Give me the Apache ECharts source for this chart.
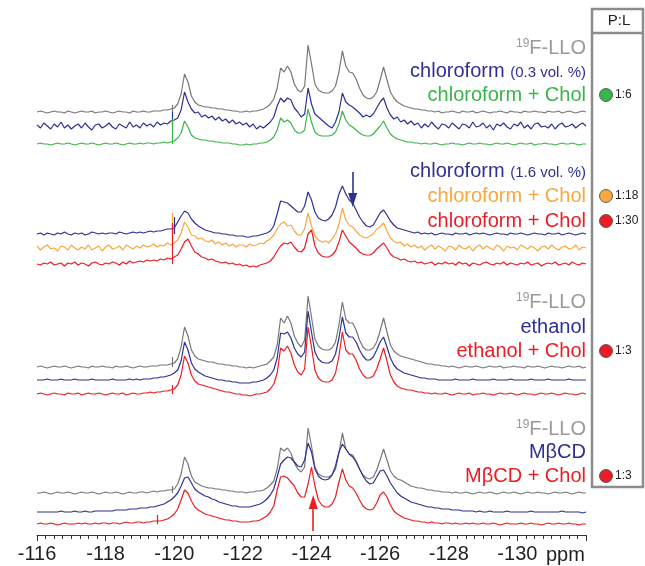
<!DOCTYPE html>
<html>
<head>
<meta charset="utf-8">
<script src="https://cdn.jsdelivr.net/npm/echarts@6/dist/echarts.min.js"></script>
<style>
  html, body { margin: 0; padding: 0; background: #fff; }
  #main { width: 645px; height: 566px; }
</style>
</head>
<body>
<div id="main"></div>
<script>
// chemical shift sampling: first point and spacing (ppm)
var ppmStart = -116.0;
var ppmStep = -0.1;

// labelled ticks of the shift axis
var ppmTicks = [-116, -118, -120, -122, -124, -126, -128, -130];

// intensities above each trace's own baseline, one value per 0.1 ppm
// panel 1 : 19F-LLO / chloroform 0.3 % / chloroform + Chol
var llo1 = [
  0,1,0,-1,0,1,0,0,-1,1, 0,-1,0,1,0,0,1,-1,0,0, 1,0,-1,0,1,0,0,-1,1,0, 0,1,0,0,1,1,1,2,2,3,
  4,8,18,38,30,16,10,7,6,5, 5,4,4,3,3,2,2,1,1,0, 0,1,0,1,1,2,3,5,8,13, 24,44,40,46,40,28,22,20,26,67,
  48,28,22,20,19,19,21,26,40,61, 46,40,39,33,24,17,14,13,15,20, 32,45,32,20,14,10,8,6,5,4, 3,3,2,2,1,1,0,1,-1,0,
  0,1,0,-1,1,0,0,1,-1,0, 1,0,-1,0,0,1,0,-1,1,0, 0,-1,1,0,0,1,0,0,-1,1, 0,0,1,-1,0,1,0,-1,0,1,0
];
var chl03 = [
  1,-2,3,0,-3,2,-1,4,-2,1, -3,0,2,-2,3,-1,-4,1,2,-2, 0,3,-1,-3,2,0,-2,4,-1,1, -2,3,0,2,-1,4,1,3,2,5,
  6,8,16,34,24,17,13,14,9,11, 8,10,6,9,5,7,3,6,2,4, 1,3,-1,2,-3,0,-2,1,4,9, 20,28,24,28,26,18,14,9,12,38,
  22,12,9,6,3,0,-2,4,14,33, 24,21,19,16,13,9,11,9,12,18, 24,28,18,11,7,9,4,6,2,5, 1,3,-2,2,-1,4,0,-3,2,1,
  -2,3,0,-3,2,1,-2,4,-1,0, 3,-2,1,-4,2,0,3,-1,-3,2, 0,4,-2,1,-3,2,3,-1,0,-2, 2,-3,1,3,-1,0,2,-2,1,3,0
];
var chl03Chol = [
  0,1,0,0,-1,0,1,0,0,1, 0,-1,0,1,0,0,1,0,-1,0, 1,0,0,1,0,-1,0,1,0,0, 1,0,1,1,0,1,1,2,1,2,
  3,6,11,23,17,9,6,5,4,4, 3,3,2,2,1,1,1,0,0,-1, -1,0,-1,0,0,1,1,2,4,7, 14,26,22,24,21,14,11,11,14,35,
  22,12,9,8,8,8,9,12,20,33, 24,19,17,14,11,9,8,8,10,14, 18,23,16,10,7,5,4,3,2,2, 1,1,0,1,0,0,1,0,-1,0,
  0,1,0,0,-1,0,1,0,0,1, 0,0,-1,0,1,0,0,1,0,-1, 0,1,0,0,1,-1,0,0,1,0, 0,-1,0,1,0,0,1,0,-1,0,0
];
// panel 2 : chloroform 1.6 % / + Chol (1:18) / + Chol (1:30)
var chl16 = [
  0,1,-1,1,0,-1,1,0,2,0, -1,1,0,1,-1,0,2,1,0,1, 0,1,1,0,2,1,0,1,2,1, 2,1,2,3,2,3,3,4,5,5,
  6,12,18,23,21,15,11,8,6,4, 3,2,1,1,0,0,-1,-1,-2,-2, -2,-3,-3,-2,-2,-1,0,1,3,8, 20,33,32,31,28,25,22,22,28,42,
  34,22,16,14,13,15,19,27,40,48, 40,34,31,24,17,12,8,7,9,15, 21,24,19,13,9,6,5,4,3,2, 1,2,0,1,0,1,-1,0,1,0,
  0,-1,1,0,0,1,-1,0,1,0, 1,0,-1,0,1,0,0,-1,1,0, 0,1,0,-1,0,1,0,0,-1,1, 0,0,1,-1,0,1,0,-1,0,1,0
];
var chl16Chol18 = [
  2,-2,1,3,-1,0,-3,2,1,-2, 3,0,-2,1,-1,3,-2,0,2,-3, 1,3,-1,0,2,-2,3,1,-1,2, 0,3,1,2,4,1,3,2,5,3,
  5,8,15,26,21,13,12,9,10,7, 6,8,4,6,3,5,2,4,1,3, 3,1,4,2,3,5,4,7,9,13, 19,24,26,22,23,17,13,13,19,35,
  22,12,8,6,7,5,9,14,24,40, 28,23,21,17,13,11,10,12,14,19, 21,25,17,10,7,5,6,2,4,1, 3,0,2,-2,1,3,-1,2,0,-3,
  2,1,-2,3,0,-1,2,-3,1,3, -1,2,0,-2,3,1,-3,2,0,1, -2,3,1,-1,2,0,-3,1,2,-1, 3,0,-2,1,2,-1,0,3,-2,1,0
];
var chl16Chol30 = [
  0,-1,1,0,2,-1,0,1,-2,1, 0,2,-1,1,0,-2,1,2,0,-1, 1,0,2,1,-1,2,0,3,1,2, 3,2,4,3,4,3,5,4,6,5,
  7,9,15,22,25,18,12,10,7,6, 4,5,3,2,1,2,0,1,-1,0, -2,-1,-3,-2,-3,-1,0,1,3,7, 13,18,21,20,22,17,13,12,16,30,
  34,18,11,8,7,7,9,13,22,34, 28,22,19,16,12,10,9,9,11,15, 18,21,16,10,7,6,4,5,3,2, 3,1,2,0,1,2,-1,1,0,2,
  0,1,-1,2,0,1,-2,1,0,-1, 1,2,0,-1,1,0,2,-1,1,0, -1,1,0,2,-1,0,1,-2,0,1, 0,2,-1,0,1,-1,2,0,-1,1,0
];
// panel 3 : 19F-LLO / ethanol / ethanol + Chol
var llo3 = [
  0,1,0,-1,0,1,0,0,1,0, -1,0,1,0,0,-1,1,0,0,1, 0,0,-1,1,0,0,1,0,-1,0, 1,0,0,1,1,1,2,2,2,3,
  4,8,20,40,31,17,11,8,7,6, 5,5,4,3,3,2,2,1,1,0, 0,-1,0,-1,0,1,2,3,6,10, 22,49,44,51,44,31,24,20,27,71,
  50,28,21,18,17,17,19,25,42,65, 48,44,44,37,27,20,17,17,19,25, 36,49,35,22,16,13,11,10,9,8, 7,6,5,4,3,3,2,2,1,1,
  0,1,0,-1,0,1,0,0,1,0, -1,0,1,0,0,1,-1,0,0,1, 0,0,-1,1,0,0,1,0,-1,0, 1,0,0,-1,0,1,0,0,1,-1,0
];
var eth = [
  0,0,0,1,0,0,0,1,0,0, 0,1,0,0,0,0,1,0,0,0, 0,0,1,0,0,0,0,1,0,1, 0,1,1,1,2,2,3,3,4,5,
  7,10,19,38,30,17,11,8,6,4, 3,2,1,0,0,-1,-1,-2,-2,-3, -3,-3,-3,-2,-2,-1,0,2,5,10, 22,47,46,48,42,32,26,23,28,69,
  48,28,21,18,17,17,19,26,42,63, 47,43,43,38,30,24,20,20,23,30, 38,43,33,22,15,11,9,7,6,5, 4,3,2,2,1,1,1,0,0,0,
  0,0,1,0,0,0,0,1,0,0, 0,0,0,1,0,0,0,0,1,0, 0,0,0,0,1,0,0,0,0,1, 0,0,0,0,0,1,0,0,0,0,0
];
var ethChol = [
  0,1,0,-1,0,1,0,0,-1,1, 0,0,1,-1,0,1,0,0,1,0, -1,0,1,0,0,1,-1,0,1,0, 0,1,1,2,1,2,2,3,3,4,
  5,9,19,38,31,19,13,10,9,8, 7,6,5,4,3,2,2,1,0,0, -1,-1,-2,-1,0,0,1,2,5,10, 21,46,43,48,41,29,22,19,25,67,
  47,24,16,13,12,12,14,21,38,62, 44,40,40,34,25,19,16,16,18,25, 35,46,33,19,12,8,6,5,4,4, 3,2,2,1,1,0,1,0,0,1,
  0,-1,0,1,0,0,1,-1,0,0, 1,0,0,-1,0,1,0,0,1,0, -1,0,1,0,0,-1,0,1,0,0, 1,0,-1,0,1,0,0,-1,0,1,0
];
// panel 4 : 19F-LLO / MbCD / MbCD + Chol
var llo4 = [
  0,0,1,0,-1,0,1,0,0,1, 0,-1,0,1,0,0,1,0,-1,0, 1,0,0,1,0,-1,0,1,0,0, 1,1,0,1,2,1,2,2,3,3,
  4,9,19,36,29,17,11,9,7,6, 5,5,4,4,3,3,2,2,1,1, 1,0,1,1,2,2,3,5,8,12, 24,45,42,45,40,30,24,21,26,65,
  47,26,19,17,16,16,18,24,40,60, 44,39,38,32,24,18,15,14,16,23, 33,44,33,22,17,14,13,11,9,7, 6,5,5,4,3,3,2,2,1,1,
  1,0,1,0,0,1,0,-1,0,1, 0,0,1,0,-1,0,1,0,0,1, 0,-1,0,1,0,0,1,0,0,-1, 0,1,0,0,1,0,-1,0,1,0,0
];
var mbcd = [
  0,0,0,0,0,0,0,1,0,0, 0,1,0,0,1,0,0,1,1,1, 1,1,1,2,2,2,2,3,3,3, 4,4,4,5,5,6,7,8,10,12,
  15,19,26,34,35,29,23,20,18,16, 15,13,12,10,9,8,7,6,6,5, 5,5,5,6,7,8,10,13,17,23, 35,48,52,55,54,50,46,45,52,69,
  60,43,36,33,32,33,37,46,60,68, 63,58,55,50,43,36,31,28,29,35, 41,42,36,29,24,19,16,14,12,10, 9,8,7,6,5,5,4,4,3,3,
  3,2,2,2,1,1,1,1,0,1, 0,0,1,0,0,0,0,1,0,0, 0,0,0,0,1,0,0,0,0,0, 0,0,0,1,0,0,0,0,0,-1,0
];
var mbcdChol = [
  0,1,0,0,1,0,-1,0,1,0, 0,0,1,0,1,0,0,1,0,1, 1,0,1,1,0,1,2,1,1,2, 2,1,2,2,3,3,3,4,5,7,
  10,15,24,34,31,23,17,14,12,10, 9,8,7,6,5,4,4,3,3,2, 2,2,2,3,3,4,6,8,12,18, 34,47,48,46,42,38,31,27,27,40,
  57,38,24,19,17,17,20,27,42,55, 44,38,36,31,24,18,15,14,15,21, 29,32,27,19,13,10,8,6,5,4, 3,3,2,2,1,2,1,1,0,1,
  1,0,1,0,0,1,0,1,0,0, 1,0,0,1,0,-1,0,1,0,0, 0,1,0,0,1,0,0,-1,0,1, 0,0,1,0,0,1,0,0,-1,0,0
];

// baseline of every trace on the stacking scale (same order as traceData)
var traceData = [llo1, chl03, chl03Chol, chl16, chl16Chol18, chl16Chol30, llo3, eth, ethChol, llo4, mbcd, mbcdChol];
var traceBase = [423, 409, 391, 301, 287, 271, 168, 155, 141, 42, 23, 11];

// narrow spikes: trace index, shift, height above baseline
var spikeTrace = [0, 1, 2, 3, 4, 5, 6, 8, 9, 11];
var spikePpm = [-119.95, -119.95, -119.95, -120.0, -119.95, -119.95, -119.95, -119.95, -119.95, -119.5];
var spikeHeight = [7, 14, 25, 17, 35, 41, 10, 9, 7, 9];

// arrows: trace index, shift, start and tip on the stacking scale
var arrowTrace = [3, 11];
var arrowPpm = [-125.2, -124.05];
var arrowFrom = [363, 4];
var arrowTo = [335, 33];

// sample labels, top to bottom
var sampleLabels = [
  '{s|19}{b|F-LLO}', '{b|chloroform }{m|(0.3 vol. %)}', '{b|chloroform + Chol}',
  '{b|chloroform }{m|(1.6 vol. %)}', '{b|chloroform + Chol}', '{b|chloroform + Chol}',
  '{s|19}{b|F-LLO}', '{b|ethanol}', '{b|ethanol + Chol}',
  '{s|19}{b|F-LLO}', '{b|M\u03b2CD}', '{b|M\u03b2CD + Chol}'
];
// protein : lipid ratios and the sample each belongs to
var plRatios = ['1:6', '1:18', '1:30', '1:3', '1:3'];
var plTrace = [2, 4, 5, 8, 11];

var GRAY = '#777777', LGRAY = '#9a9a9a', BLUE = '#2e3192', GREEN = '#39b54a', ORANGE = '#f9a73e', RED = '#ec1c24';
var traceColor = [GRAY, BLUE, GREEN, BLUE, ORANGE, RED, GRAY, BLUE, RED, GRAY, BLUE, RED];
var labelColor = [LGRAY, BLUE, GREEN, BLUE, ORANGE, RED, LGRAY, BLUE, RED, LGRAY, BLUE, RED];
var labelY = [48, 71, 95, 171, 196, 221, 302, 327, 351, 429, 452, 476];
var FONT = '"Liberation Sans", Arial, Helvetica, sans-serif';

var series = traceData.map(function (vals, k) {
  var base = traceBase[k];
  var marks = [];
  spikeTrace.forEach(function (t, j) {
    if (t !== k) return;
    marks.push([{coord: [spikePpm[j], base]}, {coord: [spikePpm[j], base + spikeHeight[j]]}]);
  });
  arrowTrace.forEach(function (t, j) {
    if (t !== k) return;
    marks.push([
      {coord: [arrowPpm[j], arrowFrom[j]], symbol: 'none'},
      {coord: [arrowPpm[j], arrowTo[j]], symbol: 'triangle', symbolSize: [9, 14], lineStyle: {width: 1.6}}
    ]);
  });
  return {
    type: 'line',
    data: vals.map(function (v, i) { return [ppmStart + ppmStep * i, base + v]; }),
    showSymbol: false,
    symbol: 'none',
    silent: true,
    lineStyle: {color: traceColor[k], width: 1.2},
    markLine: marks.length ? {
      silent: true,
      symbol: ['none', 'none'],
      label: {show: false},
      lineStyle: {color: traceColor[k], width: 1.2, type: 'solid'},
      data: marks
    } : undefined
  };
});

var graphics = sampleLabels.map(function (txt, k) {
  var c = labelColor[k];
  return {
    type: 'text', x: 586, y: labelY[k],
    style: {
      text: txt, align: 'right', verticalAlign: 'middle',
      rich: {
        b: {fontSize: 20, fontFamily: FONT, fill: c},
        m: {fontSize: 15, fontFamily: FONT, fill: c, verticalAlign: 'bottom', padding: [0, 0, 1, 0]},
        s: {fontSize: 12, fontFamily: FONT, fill: c, verticalAlign: 'top'}
      }
    }
  };
});

// P:L box
graphics.push({type: 'rect', shape: {x: 592, y: 9, width: 51, height: 478}, style: {fill: 'none', stroke: '#8c8c8c', lineWidth: 2.5}});
graphics.push({type: 'line', shape: {x1: 592, y1: 33, x2: 643, y2: 33}, style: {stroke: '#8c8c8c', lineWidth: 2.5}});
graphics.push({type: 'text', x: 619, y: 21, style: {text: 'P:L', align: 'center', verticalAlign: 'middle', fontSize: 15, fontFamily: FONT, fill: '#222'}});
plRatios.forEach(function (r, j) {
  var k = plTrace[j];
  graphics.push({type: 'circle', shape: {cx: 606, cy: labelY[k], r: 6.5}, style: {fill: traceColor[k], stroke: '#444', lineWidth: 0.8}});
  graphics.push({type: 'text', x: 615, y: labelY[k], style: {text: r, align: 'left', verticalAlign: 'middle', fontSize: 12, fontFamily: FONT, fill: '#222'}});
});
// unit after the last labelled tick
graphics.push({type: 'text', x: 546, y: 555, style: {text: 'ppm', align: 'left', verticalAlign: 'middle', fontSize: 20, fontFamily: FONT, fill: '#231f20'}});

var chart = echarts.init(document.getElementById('main'), null, {renderer: 'canvas'});
chart.setOption({
  animation: false,
  backgroundColor: '#fff',
  grid: {left: 37, right: 59, top: 20, bottom: 31},
  xAxis: {
    type: 'value', min: -132, max: -116, interval: 2, inverse: true,
    axisLine: {show: true, lineStyle: {color: '#333', width: 1}},
    axisTick: {show: true, length: 6, lineStyle: {color: '#333'}},
    minorTick: {show: true, splitNumber: 8, length: 4, lineStyle: {color: '#333'}},
    splitLine: {show: false},
    axisLabel: {
      fontSize: 20, fontFamily: FONT, color: '#231f20', margin: 9,
      formatter: function (v) { return ppmTicks.indexOf(v) >= 0 ? String(v) : ''; }
    }
  },
  yAxis: {type: 'value', min: 0, max: 515, show: false},
  series: series,
  graphic: graphics
});
</script>
</body>
</html>
